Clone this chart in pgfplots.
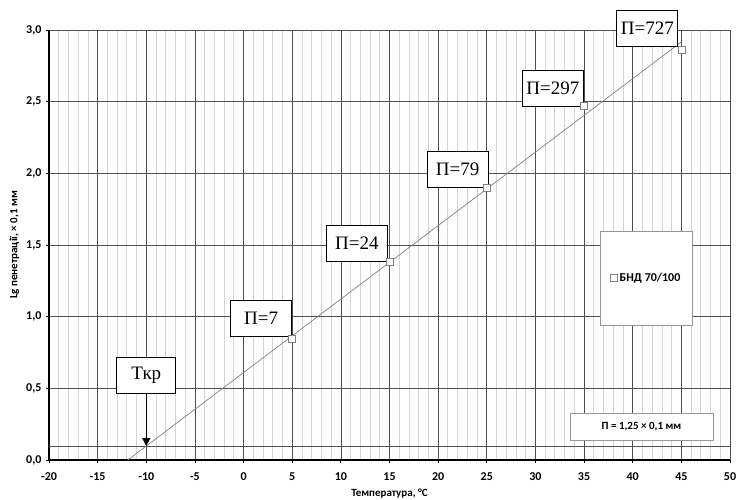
\documentclass[border=0pt]{standalone}
\usepackage{pgfplots}
\pgfplotsset{compat=1.18}
\usepackage{fontspec}
\setmainfont{Carlito}
\newfontfamily\serif{Liberation Serif}
\usetikzlibrary{arrows.meta}
\definecolor{majgrid}{HTML}{505050}
\definecolor{mingrid}{HTML}{D4D4D4}
\begin{document}
\begin{tikzpicture}
\begin{axis}[
  at={(0pt,0pt)}, anchor=south west,
  width=681pt, height=430pt, scale only axis,
  xmin=-20, xmax=50, ymin=0, ymax=3,
  axis x line*=bottom, axis y line*=left,
  axis line style={black, line width=1.3pt, -},
  xtick={-20,-15,...,50},
  xticklabels={-20,-15,-10,-5,0,5,10,15,20,25,30,35,40,45,50},
  minor x tick num=4,
  ytick={0,0.5,1,1.5,2,2.5,3},
  yticklabels={{0,0},{0,5},{1,0},{1,5},{2,0},{2,5},{3,0}},
  grid=both,
  major grid style={majgrid, line width=0.6pt},
  minor grid style={mingrid, line width=0.8pt},
  tick align=outside,
  major tick length=3pt, minor tick length=0pt,
  tick style={black, line width=0.8pt},
  ticklabel style={font=\bfseries\fontsize{12}{14}\selectfont},
  xticklabel style={yshift=-6pt},
  yticklabel style={xshift=-1pt},
  xlabel={Температура, °C},
  ylabel={Lg пенетрації, × 0,1 мм},
  label style={font=\bfseries\fontsize{11}{13}\selectfont},
  xlabel style={yshift=-2pt},
  ylabel style={yshift=0pt},
  clip=false,
  legend style={at={(0.877,0.423)}, anchor=center, draw=majgrid!60, line width=0.6pt,
    inner xsep=10pt, inner ysep=40pt, font=\bfseries\fontsize{12}{14}\selectfont},
  legend image code/.code={\draw[gray, fill=white, line width=0.6pt] (0pt,-3.5pt) rectangle (7pt,3.5pt);},
]
\addplot[majgrid, line width=0.7pt, forget plot] coordinates {(-20,0.097) (50,0.097)};
\addplot[gray, line width=0.7pt, forget plot] coordinates {(-11.9,0) (45,2.917)};
\addplot[only marks, mark=square*, mark size=3.5pt,
  mark options={fill=white, draw=gray, line width=0.6pt}]
  coordinates {(5,0.845) (15,1.380) (25,1.898) (35,2.473) (45,2.862)};
\addlegendentry{БНД 70/100}

\tikzset{lbl/.style={draw=black, line width=0.8pt, fill=white, font=\serif\fontsize{19}{21}\selectfont,
  inner xsep=4pt, inner ysep=6pt, minimum width=61pt, minimum height=36pt}}
\node[lbl] at (axis cs:1.8,0.99) {П=7};
\node[lbl] at (axis cs:11.65,1.51) {П=24};
\node[lbl] at (axis cs:22.0,2.03) {П=79};
\node[lbl] at (axis cs:31.8,2.59) {П=297};
\node[lbl] at (axis cs:41.5,3.01) {П=727};
\node[lbl, minimum width=59pt] (tkr) at (axis cs:-10,0.59) {Ткр};
\draw[black, line width=1pt, -{Triangle[length=8pt,width=8pt]}] (tkr.south) -- (axis cs:-10,0.097);
\node[draw=majgrid!60, line width=0.6pt, fill=white, minimum width=143pt, minimum height=27pt,
  font=\bfseries\fontsize{11}{13}\selectfont] at (rel axis cs:0.870,0.077) {П = 1,25 × 0,1 мм};
\end{axis}
\pgfresetboundingbox
\path (-49pt,-40pt) rectangle (687pt,460pt);
\end{tikzpicture}
\end{document}
